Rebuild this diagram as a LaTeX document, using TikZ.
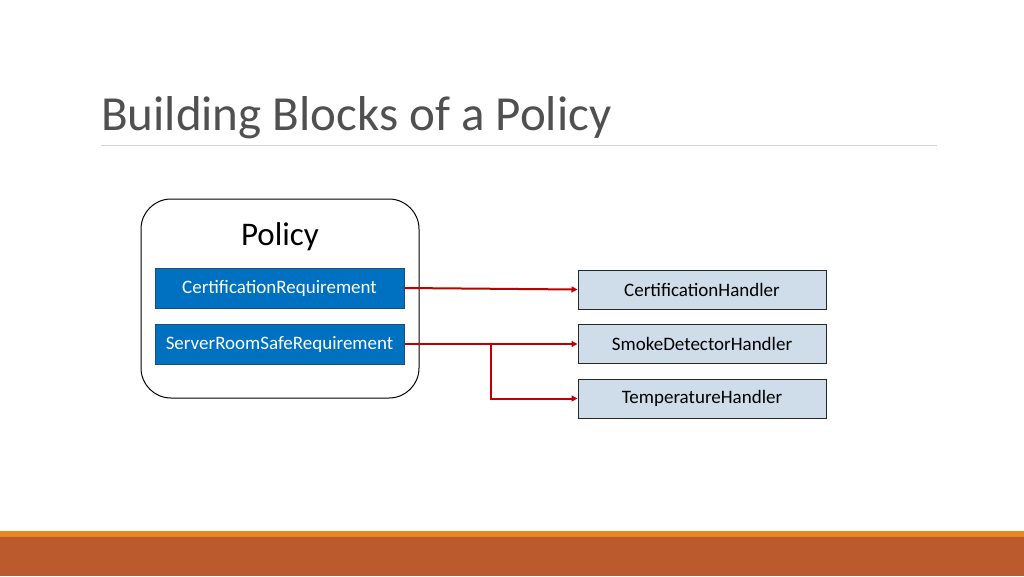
\documentclass[tikz,border=0pt]{standalone}
\usepackage{fontspec}
\setmainfont{Carlito}
\usetikzlibrary{arrows.meta}

\definecolor{titlegray}{RGB}{80,80,80}
\definecolor{rulegray}{RGB}{210,210,210}
\definecolor{reqblue}{RGB}{0,112,192}
\definecolor{reqedge}{RGB}{31,78,121}
\definecolor{handfill}{RGB}{207,221,235}
\definecolor{handedge}{RGB}{40,40,40}
\definecolor{arrowred}{RGB}{192,0,0}
\definecolor{stripe}{RGB}{232,135,30}
\definecolor{footer}{RGB}{187,90,45}

\tikzset{
    reqbox/.style={draw=reqedge, fill=reqblue, line width=1pt,
        minimum width=249pt, minimum height=40pt, inner sep=0pt,
        text=white, font=\fontsize{19}{23}\selectfont},
    handbox/.style={draw=handedge, fill=handfill, line width=1pt,
        minimum width=248pt, minimum height=39pt, inner sep=0pt,
        text=black, font=\fontsize{19}{23}\selectfont},
    redarrow/.style={draw=arrowred, line width=2pt,
        -{Triangle[length=6pt,width=6pt]}}
}

\begin{document}
\begin{tikzpicture}[x=1pt,y=-1pt]
\useasboundingbox (0,0) rectangle (1024,576);

% Title
\node[anchor=base west, inner sep=0pt, text=titlegray,
      font=\fontsize{49}{58}\selectfont] (title) at (101,130) {Building Blocks of a Policy};
\draw[rulegray, line width=1pt] (101,145) -- (937,145);

% Policy container
\draw[black, line width=1pt, rounded corners=30pt] (141,199) rectangle (419,398);
\node[font=\fontsize{33}{40}\selectfont] (policy) at (280,237) {Policy};

% Requirements
\node[reqbox] (certreq) at (279.5,288) {CertificationRequirement};
\node[reqbox] (serverreq) at (279.5,344) {ServerRoomSafeRequirement};

% Handlers
\node[handbox] (certhand) at (702,289.5) {CertificationHandler};
\node[handbox] (smokehand) at (702,344) {SmokeDetectorHandler};
\node[handbox] (temphand) at (702,398.5) {TemperatureHandler};

% Arrows
\draw[redarrow] (certreq.east) -- (certhand.west);
\draw[redarrow] (serverreq.east) -- (smokehand.west);
\coordinate (split) at (491,344);
\draw[redarrow] (split) |- (temphand.west);

% Footer
\fill[stripe] (0,531) rectangle (1024,537);
\fill[footer] (0,537) rectangle (1024,576);

\end{tikzpicture}
\end{document}
